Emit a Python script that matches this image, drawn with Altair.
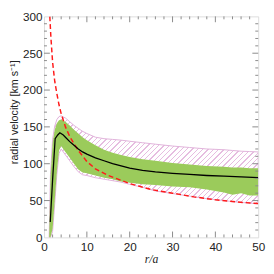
import altair as alt
import pandas as pd

# ---------------- data ----------------
band_r = [1.2, 1.5, 2, 2.5, 3, 3.5, 4, 5, 6, 7, 8, 9, 10, 12, 14, 16, 18, 20,
          23, 26, 30, 34, 38, 42, 44, 46, 48, 50]
green_hi = [0, 80, 128, 146, 155, 159, 160, 157, 152, 146, 141, 136, 132, 125,
            119, 115, 112, 109, 106, 104, 101, 99, 97, 96, 95, 95, 94, 94]
green_lo = [0, 0, 12, 50, 90, 118, 124, 116, 108, 100, 92, 88, 87, 84, 81, 79,
            76, 74, 72, 71, 69, 68, 65, 61, 58, 60, 57, 57]
hatch_hi = [0, 85, 133, 151, 160, 164, 165, 162, 157, 152, 148, 144, 141, 136,
            134, 133, 132, 130.5, 128.5, 126.5, 124, 122, 120, 119, 118, 117, 116.5, 116]
hatch_lo = [0, 0, 8, 46, 86, 114, 120, 112, 104, 96, 89, 85, 84, 81, 79, 77,
            75, 72, 68, 63, 59.5, 56, 52.5, 50, 48.5, 47.5, 46.5, 45.5]

black_r = [1.45, 2.0, 2.6, 3.2, 3.7, 4.5, 5, 6, 7, 8, 9, 10, 12, 14, 16, 18, 20,
           23, 26, 30, 34, 38, 42, 46, 50]
black_v = [21, 78, 134, 139, 142, 139, 136, 130, 125, 120, 116, 113, 108, 104,
           100, 97, 94, 91, 89, 87, 85.5, 84, 83, 82, 81]

red_r = [1.35, 1.6, 2, 2.5, 3, 3.5, 4, 5, 6, 7, 8, 10, 12, 15, 20, 25, 30, 35, 40, 45, 50]
red_v = [300, 272, 238, 212, 195, 180, 168, 150, 137, 127, 118, 103, 93, 84, 73,
         65, 60, 55, 51, 48, 46]

x_ticks = [0, 10, 20, 30, 40, 50]
y_ticks = [0, 50, 100, 150, 200, 250, 300]
x_minor = [2, 4, 6, 8, 12, 14, 16, 18, 22, 24, 26, 28, 32, 34, 36, 38, 42, 44, 46, 48]
x_major = [10, 20, 30, 40]
y_minor = [10, 20, 30, 40, 60, 70, 80, 90, 110, 120, 130, 140, 160, 170, 180, 190,
           210, 220, 230, 240, 260, 270, 280, 290]
y_major = [50, 100, 150, 200, 250]

# ---------------- layout / style ----------------
W, H = 220, 227
GREY = "#8a8a8a"
FONT = "Liberation Sans"

xs = alt.Scale(domain=[0, 50], nice=False, zero=False)
ys = alt.Scale(domain=[0, 300], nice=False, zero=False)

xaxis = alt.Axis(values=x_ticks, ticks=False, domain=False, grid=False,
                 labelFlush=False, labelFont=FONT, labelFontSize=12,
                 labelColor="#222222", labelPadding=4,
                 title="r/a", titleFont="Liberation Serif", titleFontStyle="italic",
                 titleFontWeight="normal", titleFontSize=12, titleColor="#222222",
                 titlePadding=2)
yaxis = alt.Axis(values=y_ticks, ticks=False, domain=False, grid=False,
                 labelFlush=False, labelFont=FONT, labelFontSize=12,
                 labelColor="#222222", labelPadding=2,
                 title="radial velocity [km s⁻¹]", titleFont=FONT,
                 titleFontWeight="normal", titleFontSize=11, titleColor="#222222",
                 titleX=-27, titleY=98, titleAngle=270,
                 titleAlign="center", titleBaseline="alphabetic")

X = alt.X("r:Q", scale=xs, axis=xaxis)
Y = alt.Y("v:Q", scale=ys, axis=yaxis)

band = pd.DataFrame({"r": band_r, "v": hatch_hi, "lo": hatch_lo,
                     "ghi": green_hi, "glo": green_lo})
black = pd.DataFrame({"r": black_r, "v": black_v})
red = pd.DataFrame({"r": red_r, "v": red_v})

# diagonal hatching as a striped linear gradient (style only)
bw, bh = 215.0, 125.0
ga = bw * (bw + bh) / (bw ** 2 + bh ** 2)
gb = ga * bh / bw
N = 62
frac = 0.2
PINK = "#e6bde0"
stops = []
for i in range(N):
    t0 = i / N
    t1 = (i + frac) / N
    stops += [alt.GradientStop(color="#ffffff", offset=t0),
              alt.GradientStop(color=PINK, offset=t0),
              alt.GradientStop(color=PINK, offset=t1),
              alt.GradientStop(color="#ffffff", offset=t1)]
stops.append(alt.GradientStop(color="#ffffff", offset=1))
hatch_fill = alt.LinearGradient(gradient="linear", stops=stops,
                                x1=0, y1=0, x2=ga, y2=gb)

hatch = alt.Chart(band).mark_area(fill=hatch_fill, stroke="#e0b2da",
                                  strokeWidth=1, clip=True).encode(
    x=X, y=Y, y2=alt.Y2("lo:Q"))

green = alt.Chart(band).mark_area(color="#9bcb5b", clip=True).encode(
    x=X, y=alt.Y("ghi:Q", scale=ys, axis=yaxis), y2=alt.Y2("glo:Q"))

red_line = alt.Chart(red).mark_line(color="#ff1a1a", strokeWidth=1.5,
                                    strokeDash=[5, 3], clip=True).encode(x=X, y=Y)

black_line = alt.Chart(black).mark_line(color="black", strokeWidth=1.3,
                                        clip=True).encode(x=X, y=Y)


def xt(vals, length):
    d = pd.DataFrame({"r": vals})
    b = alt.Chart(d).mark_rule(color=GREY, strokeWidth=1).encode(
        x=X, y=alt.value(H), y2=alt.value(H - length))
    t = alt.Chart(d).mark_rule(color=GREY, strokeWidth=1).encode(
        x=X, y=alt.value(0), y2=alt.value(length))
    return [b, t]


def yt(vals, length):
    d = pd.DataFrame({"v": vals})
    l = alt.Chart(d).mark_rule(color=GREY, strokeWidth=1).encode(
        y=Y, x=alt.value(0), x2=alt.value(length))
    r = alt.Chart(d).mark_rule(color=GREY, strokeWidth=1).encode(
        y=Y, x=alt.value(W), x2=alt.value(W - length))
    return [l, r]


ticks = xt(x_minor, 3) + xt(x_major, 6) + yt(y_minor, 3) + yt(y_major, 6)

chart = alt.layer(hatch, green, red_line, black_line, *ticks).properties(
    width=W, height=H,
    autosize=alt.AutoSizeParams(type="none"),
    padding={"left": 37, "top": 5, "right": 8, "bottom": 34},
).configure_view(stroke=GREY, strokeWidth=1.2).configure(background="white")

chart.save("out.html", embed_options={"renderer": "svg", "actions": False})
